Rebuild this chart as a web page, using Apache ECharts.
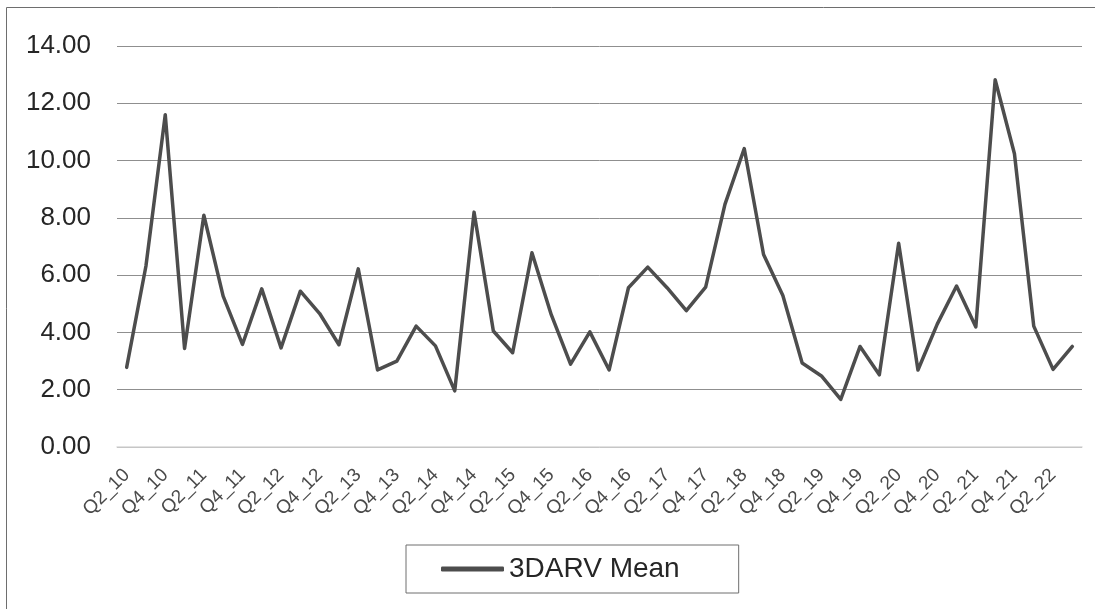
<!DOCTYPE html>
<html>
<head>
<meta charset="utf-8">
<script src="https://cdn.jsdelivr.net/npm/echarts@6/dist/echarts.min.js"></script>
<style>html,body{margin:0;padding:0;background:#fff;}#c{width:1095px;height:609px;}</style>
</head>
<body>
<div id="c"></div>
<script>
const categories = [
  'Q2_10','Q3_10','Q4_10','Q1_11','Q2_11','Q3_11','Q4_11','Q1_12','Q2_12','Q3_12',
  'Q4_12','Q1_13','Q2_13','Q3_13','Q4_13','Q1_14','Q2_14','Q3_14','Q4_14','Q1_15',
  'Q2_15','Q3_15','Q4_15','Q1_16','Q2_16','Q3_16','Q4_16','Q1_17','Q2_17','Q3_17',
  'Q4_17','Q1_18','Q2_18','Q3_18','Q4_18','Q1_19','Q2_19','Q3_19','Q4_19','Q1_20',
  'Q2_20','Q3_20','Q4_20','Q1_21','Q2_21','Q3_21','Q4_21','Q1_22','Q2_22','Q3_22'
];
const seriesName = '3DARV Mean';
const values = [
  2.78, 6.32, 11.6, 3.44, 8.09, 5.27, 3.58, 5.52, 3.46, 5.44,
  4.66, 3.57, 6.22, 2.69, 3.00, 4.22, 3.53, 1.96, 8.20, 4.05,
  3.29, 6.78, 4.62, 2.89, 4.02, 2.69, 5.56, 6.28, 5.56, 4.76,
  5.58, 8.47, 10.42, 6.72, 5.29, 2.93, 2.48, 1.66, 3.51, 2.52,
  7.11, 2.69, 4.29, 5.62, 4.19, 12.82, 10.24, 4.22, 2.71, 3.51
];
const yMin = 0, yMax = 14, yStep = 2;

const FONT = '"Liberation Sans", Arial, sans-serif';
const chart = echarts.init(document.getElementById('c'), null, {renderer: 'canvas'});
chart.setOption({
  animation: false,
  backgroundColor: '#ffffff',
  textStyle: {fontFamily: FONT},
  graphic: [{
    type: 'rect', silent: true,
    shape: {x: 6.5, y: 7.5, width: 1200, height: 800},
    style: {fill: 'none', stroke: '#6e6e6e', lineWidth: 1}
  }],
  grid: {left: 117, right: 13, top: 46, bottom: 162},
  xAxis: {
    type: 'category',
    data: categories,
    boundaryGap: true,
    axisLine: {show: true, lineStyle: {color: '#d9d9d9', width: 1.5}},
    axisTick: {show: false},
    axisLabel: {
      interval: 1, rotate: 45, fontSize: 19, color: '#4a4a4a', margin: 25,
      fontFamily: FONT
    },
    splitLine: {show: false}
  },
  yAxis: {
    type: 'value',
    min: yMin, max: yMax, interval: yStep,
    axisLine: {show: false},
    axisTick: {show: false},
    axisLabel: {
      fontSize: 26, color: '#262626', margin: 26,
      formatter: v => v.toFixed(2),
      fontFamily: FONT
    },
    splitLine: {lineStyle: {color: '#8f8f8f', width: 1}}
  },
  legend: {
    show: true,
    left: 406, top: 545,
    orient: 'horizontal',
    borderColor: '#6e6e6e', borderWidth: 1,
    padding: [10, 59, 10, 35],
    itemWidth: 63, itemHeight: 5,
    icon: 'roundRect',
    itemStyle: {color: '#4d4d4d', borderWidth: 0},
    textStyle: {fontSize: 28, color: '#262626', fontFamily: FONT},
    data: [seriesName]
  },
  series: [{
    name: seriesName,
    type: 'line',
    data: values,
    symbol: 'none',
    showSymbol: false,
    smooth: false,
    lineStyle: {color: '#4d4d4d', width: 3.5, join: 'round', cap: 'round'},
    itemStyle: {color: '#4d4d4d'}
  }]
});
</script>
</body>
</html>
